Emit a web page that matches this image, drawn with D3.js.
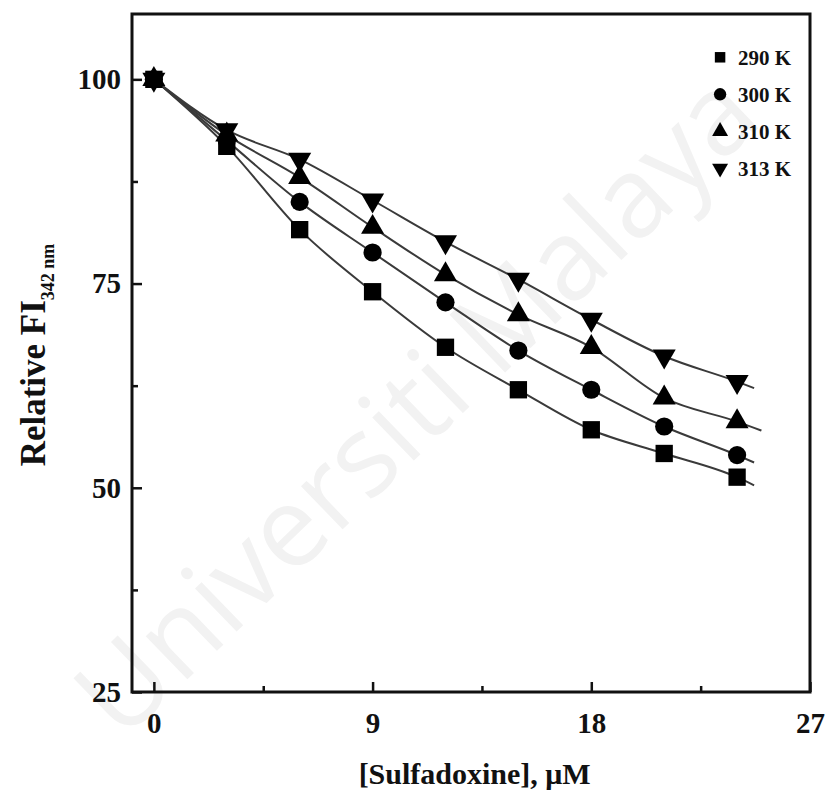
<!DOCTYPE html>
<html>
<head>
<meta charset="utf-8">
<script src="https://cdn.jsdelivr.net/npm/d3@7"></script>
<style>
  body { margin: 0; background: #fff; }
  text { font-family: "Liberation Serif", "Times New Roman", serif; font-weight: bold; }
</style>
</head>
<body>
<div id="chart"></div>
<script>
// concentrations of sulfadoxine (uM)
const conc = [0, 3, 6, 9, 12, 15, 18, 21, 24];
const temps = ["290 K", "300 K", "310 K", "313 K"];
const fi290 = [100, 91.8, 81.6, 74.0, 67.2, 62.0, 57.1, 54.2, 51.3];
const fi300 = [100, 92.5, 85.0, 78.8, 72.7, 66.8, 62.0, 57.5, 54.0];
const fi310 = [100, 93.2, 88.0, 81.9, 76.1, 71.2, 67.2, 61.0, 58.1];
const fi313 = [100, 93.8, 90.2, 85.2, 80.1, 75.5, 70.6, 66.1, 63.0];
// where the fitted curves stop
const fitEndX = [24.7, 24.7, 25.0, 24.7];
const fitEndY = [50.3, 53.1, 57.0, 62.2];
const xTicks = [0, 9, 18, 27];
const yTicks = [25, 50, 75, 100];

const margin = { top: 14, right: 22, bottom: 115, left: 132 };
const width = 832 - margin.left - margin.right;
const height = 807 - margin.top - margin.bottom;

const svgRoot = d3.select("#chart")
    .append("svg")
    .attr("width", 832)
    .attr("height", 807);

// faint watermark
svgRoot.append("text")
    .attr("transform", "translate(416,404) rotate(-44)")
    .attr("text-anchor", "middle")
    .attr("dy", "0.35em")
    .style("font-family", "'Open Sans', sans-serif")
    .style("font-weight", "normal")
    .style("font-size", "112px")
    .attr("fill", "#f2f2f2")
    .text("Universiti Malaya");

const svg = svgRoot.append("g")
    .attr("transform", `translate(${margin.left},${margin.top})`);

const x = d3.scaleLinear().domain([-0.9, 27]).range([0, width]);
const y = d3.scaleLinear().domain([25, 108]).range([height, 0]);

const series = [fi290, fi300, fi310, fi313].map((vals, i) => {
    const pts = conc.map((c, j) => ({ x: c, y: vals[j] }));
    return { name: temps[i], pts: pts, fit: pts.concat([{ x: fitEndX[i], y: fitEndY[i] }]) };
});

// fitted curves
const line = d3.line()
    .x(d => x(d.x))
    .y(d => y(d.y))
    .curve(d3.curveMonotoneX);

svg.selectAll(".fit")
    .data(series)
    .enter()
    .append("path")
    .attr("class", "fit")
    .attr("d", d => line(d.fit))
    .attr("fill", "none")
    .attr("stroke", "#3a3a3a")
    .attr("stroke-width", 2);

// marker shapes
const shapes = [
    d3.symbol().type(d3.symbolSquare).size(300),
    d3.symbol().type(d3.symbolCircle).size(260),
    d3.symbol().type(d3.symbolTriangle).size(230),
    d3.symbol().type(d3.symbolTriangle).size(230)
];
const legendShapes = [
    d3.symbol().type(d3.symbolSquare).size(110),
    d3.symbol().type(d3.symbolCircle).size(120),
    d3.symbol().type(d3.symbolTriangle).size(110),
    d3.symbol().type(d3.symbolTriangle).size(110)
];

series.forEach((s, i) => {
    svg.selectAll(".m" + i)
        .data(s.pts)
        .enter()
        .append("path")
        .attr("class", "m" + i)
        .attr("d", shapes[i]())
        .attr("transform", d => `translate(${x(d.x)},${y(d.y)})` + (i === 3 ? " rotate(180)" : ""))
        .attr("fill", "#000");
});

// frame
svg.append("rect")
    .attr("width", width)
    .attr("height", height)
    .attr("fill", "none")
    .attr("stroke", "#111")
    .attr("stroke-width", 3);

// axes with inward ticks
const xAxis = svg.append("g")
    .attr("transform", `translate(0,${height})`)
    .call(d3.axisBottom(x).tickValues(xTicks).tickSize(-10).tickPadding(20).tickFormat(d3.format("d")));
xAxis.append("g")
    .call(d3.axisBottom(x).tickValues([4.5, 13.5, 22.5]).tickSize(-6).tickFormat(""));

const yAxis = svg.append("g")
    .call(d3.axisLeft(y).tickValues(yTicks).tickSize(-10).tickPadding(11));
yAxis.append("g")
    .call(d3.axisLeft(y).tickValues([37.5, 62.5, 87.5]).tickSize(-6).tickFormat(""));

svg.selectAll(".domain").remove();
svg.selectAll(".tick line").attr("stroke", "#111").attr("stroke-width", 2.5);
svg.selectAll(".tick text")
    .attr("fill", "#111")
    .style("font-size", "29px")
    .style("font-family", "'Liberation Serif', serif")
    .style("font-weight", "bold");

// axis titles
svg.append("text")
    .attr("x", x(13.2))
    .attr("y", height + 92)
    .attr("text-anchor", "middle")
    .style("font-size", "30px")
    .attr("fill", "#111")
    .text("[Sulfadoxine], μM");

const yt = svg.append("text")
    .attr("transform", "rotate(-90)")
    .attr("x", -(355 - margin.top))
    .attr("y", -margin.left + 45)
    .attr("text-anchor", "middle")
    .style("font-size", "35px")
    .attr("fill", "#111");
yt.append("tspan").text("Relative FI");
yt.append("tspan")
    .attr("dy", 9)
    .style("font-size", "18px")
    .text("342 nm");

// legend
const legend = svg.append("g")
    .attr("transform", `translate(${x(23.3)},${y(102.7)})`);

temps.forEach((t, i) => {
    const row = legend.append("g").attr("transform", `translate(0,${i * 37})`);
    row.append("path")
        .attr("d", legendShapes[i]())
        .attr("transform", i === 3 ? "rotate(180)" : null)
        .attr("fill", "#000");
    row.append("text")
        .attr("x", 18)
        .attr("dy", "0.35em")
        .style("font-size", "21px")
        .attr("fill", "#111")
        .text(t);
});
</script>
</body>
</html>
